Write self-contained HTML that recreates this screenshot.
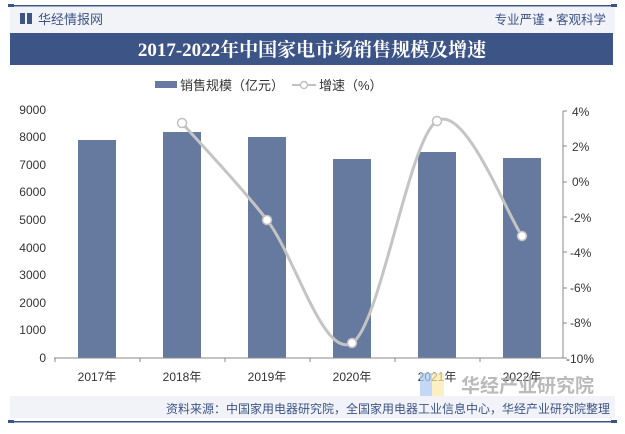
<!DOCTYPE html>
<html><head><meta charset="utf-8"><style>
body{margin:0;width:625px;height:429px;background:#fff;overflow:hidden;font-family:"Liberation Sans","Noto Sans CJK SC",sans-serif;}
</style></head><body>
<svg width="625" height="429" xmlns="http://www.w3.org/2000/svg" style="font-family:'Liberation Sans','Noto Sans CJK SC',sans-serif">
<rect x="0" y="0" width="625" height="429" fill="#fff"/>
<rect x="10" y="5" width="605" height="1.5" fill="#3d5487"/>
<rect x="8" y="4" width="6" height="3" fill="#3d5487"/><rect x="611" y="4" width="6" height="3" fill="#3d5487"/>
<rect x="10" y="7" width="605" height="26" fill="#f1f3f8"/>
<rect x="20" y="13" width="5" height="11" fill="#3d5487"/><rect x="27" y="13" width="5" height="11" fill="#3d5487"/>
<text x="38" y="24" font-size="13" fill="#3d5487">华经情报网</text>
<text x="606" y="24" font-size="12.5" fill="#3d5487" text-anchor="end">专业严谨 • 客观科学</text>
<rect x="10" y="33" width="603" height="32" fill="#3d5487"/>
<text x="312" y="56" font-size="19" font-weight="bold" fill="#fff" text-anchor="middle" font-family="Liberation Serif,'Noto Serif CJK SC',serif">2017-2022年中国家电市场销售规模及增速</text>
<rect x="155" y="81" width="22" height="7" fill="#66799f"/>
<text x="180" y="90" font-size="13" fill="#333">销售规模（亿元）</text>
<line x1="292" y1="85" x2="316" y2="85" stroke="#c0c0c0" stroke-width="2"/>
<circle cx="304" cy="85" r="3.5" fill="#fff" stroke="#c0c0c0" stroke-width="1.5"/>
<text x="319" y="90" font-size="13" fill="#333">增速（%）</text>
<g font-size="12" fill="#333">
<text x="46" y="114" text-anchor="end">9000</text>
<text x="46" y="141" text-anchor="end">8000</text>
<text x="46" y="169" text-anchor="end">7000</text>
<text x="46" y="196" text-anchor="end">6000</text>
<text x="46" y="224" text-anchor="end">5000</text>
<text x="46" y="252" text-anchor="end">4000</text>
<text x="46" y="279" text-anchor="end">3000</text>
<text x="46" y="307" text-anchor="end">2000</text>
<text x="46" y="334" text-anchor="end">1000</text>
<text x="46" y="362" text-anchor="end">0</text>
<text x="572" y="116">4%</text>
<text x="572" y="151">2%</text>
<text x="572" y="186">0%</text>
<text x="570" y="222">-2%</text>
<text x="570" y="257">-4%</text>
<text x="570" y="292">-6%</text>
<text x="570" y="327">-8%</text>
<text x="566" y="363">-10%</text>
</g>
<line x1="563" y1="111" x2="563" y2="358" stroke="#888"/>
<g stroke="#888"><line x1="563" y1="111" x2="567" y2="111"/><line x1="563" y1="146" x2="567" y2="146"/><line x1="563" y1="182" x2="567" y2="182"/><line x1="563" y1="217" x2="567" y2="217"/><line x1="563" y1="252" x2="567" y2="252"/><line x1="563" y1="288" x2="567" y2="288"/><line x1="563" y1="323" x2="567" y2="323"/><line x1="563" y1="358" x2="567" y2="358"/></g>
<g fill="#66799f">
<rect x="78" y="140" width="38" height="218"/>
<rect x="163" y="132" width="38" height="226"/>
<rect x="248" y="137" width="38" height="221"/>
<rect x="333" y="159" width="38" height="199"/>
<rect x="418" y="152" width="38" height="206"/>
<rect x="503" y="158" width="38" height="200"/>
</g>
<line x1="54" y1="358" x2="563" y2="358" stroke="#888"/>
<g stroke="#888"><line x1="55" y1="358" x2="55" y2="362"/><line x1="140" y1="358" x2="140" y2="362"/><line x1="225" y1="358" x2="225" y2="362"/><line x1="310" y1="358" x2="310" y2="362"/><line x1="395" y1="358" x2="395" y2="362"/><line x1="480" y1="358" x2="480" y2="362"/></g>
<g font-size="12" fill="#333" text-anchor="middle">
<text x="97" y="381">2017年</text><text x="182" y="381">2018年</text><text x="267" y="381">2019年</text><text x="352" y="381">2020年</text><text x="437" y="381">2021年</text><text x="522" y="381">2022年</text>
</g>
<path d="M182,123 C196.2,139.2 238.7,183.3 267,220 C295.3,256.7 323.7,359.5 352,343 C380.3,326.5 408.7,138.8 437,121 C465.3,103.2 507.8,216.8 522,236" fill="none" stroke="#c4c4c4" stroke-width="3"/>
<g fill="#fff" stroke="#c0c0c0" stroke-width="1.5">
<circle cx="182" cy="123" r="4.5"/><circle cx="267" cy="220" r="4.5"/><circle cx="352" cy="343" r="4.5"/><circle cx="437" cy="121" r="4.5"/><circle cx="522" cy="236" r="4.5"/>
</g>
<rect x="420" y="373" width="12" height="28" fill="#a9c8f0" opacity="0.7"/><rect x="432" y="373" width="12" height="28" fill="#fbe9a8" opacity="0.7"/>
<text x="461" y="392" font-size="19" font-weight="bold" fill="#aaa" opacity="0.8">华经产业研究院</text>
<rect x="10" y="396" width="605" height="22" fill="#f1f3f8"/>
<text x="610" y="413" font-size="12" fill="#3d5487" text-anchor="end">资料来源：中国家用电器研究院，全国家用电器工业信息中心，华经产业研究院整理</text>
<rect x="10" y="421" width="605" height="1.5" fill="#3d5487"/>
<rect x="8" y="420" width="6" height="3" fill="#3d5487"/><rect x="611" y="420" width="6" height="3" fill="#3d5487"/>
</svg>
</body></html>
